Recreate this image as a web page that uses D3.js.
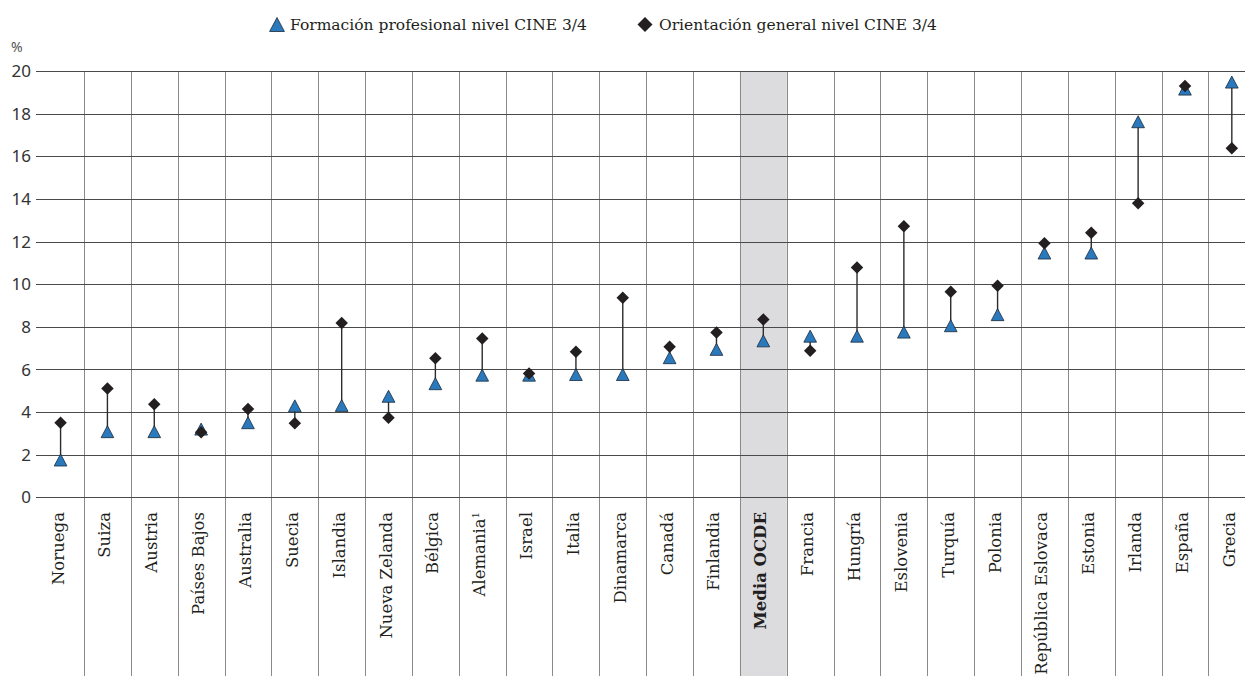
<!DOCTYPE html>
<html><head><meta charset="utf-8">
<script src="https://cdn.jsdelivr.net/npm/d3@7"></script>
<style>body{margin:0;background:#fff}svg{display:block}</style>
</head><body>
<script>
const categories = ["Noruega","Suiza","Austria","Países Bajos","Australia","Suecia","Islandia","Nueva Zelanda","Bélgica","Alemania","Israel","Italia","Dinamarca","Canadá","Finlandia","Media OCDE","Francia","Hungría","Eslovenia","Turquía","Polonia","República Eslovaca","Estonia","Irlanda","España","Grecia"];
const vocational = [1.75,3.08,3.08,3.2,3.5,4.29,4.31,4.74,5.33,5.73,5.73,5.76,5.76,6.55,6.94,7.34,7.56,7.56,7.75,8.05,8.57,11.46,11.46,17.62,19.15,19.48];
const general    = [3.5,5.1,4.36,3.05,4.14,3.47,8.18,3.73,6.52,7.45,5.81,6.83,9.36,7.06,7.73,8.34,6.87,10.78,12.72,9.64,9.92,11.92,12.41,13.79,19.3,16.37];
const yTicks = [0,2,4,6,8,10,12,14,16,18,20];
const seriesNames = ["Formación profesional nivel CINE 3/4","Orientación general nivel CINE 3/4"];
const highlight = "Media OCDE";

const W = 1245, H = 676;
const svg = d3.select("body").append("svg").attr("width", W).attr("height", H);
const x = d3.scaleBand().domain(categories).range([37.15, 1255.25]).padding(0);
const y = d3.scaleLinear().domain([0, 20]).range([497.3, 71]);
const bw = x.bandwidth();
const blue = "#2a79bd", dark = "#231f20";

// highlight band
svg.append("rect").attr("x", x(highlight)).attr("y", y(20)).attr("width", bw)
  .attr("height", H - y(20)).attr("fill", "#dcdcde");

// vertical separators
svg.append("g").selectAll("line").data(categories.slice(1)).join("line")
  .attr("x1", d => Math.round(x(d)) + 0.5).attr("x2", d => Math.round(x(d)) + 0.5)
  .attr("y1", y(20)).attr("y2", H).attr("stroke", "#8a8a8a").attr("stroke-width", 1);

// horizontal gridlines
svg.append("g").selectAll("line").data(yTicks).join("line")
  .attr("x1", 36).attr("x2", W)
  .attr("y1", d => Math.round(y(d)) + 0.5).attr("y2", d => Math.round(y(d)) + 0.5)
  .attr("stroke", "#4a4a4a").attr("stroke-width", 1);

// y tick labels
svg.append("g").selectAll("text").data(yTicks).join("text")
  .attr("x", 31).attr("y", d => y(d)).attr("dy", "0.36em").attr("text-anchor", "end")
  .attr("font-family", "'Noto Sans', sans-serif").attr("font-size", 17).attr("fill", "#333")
  .text(d => d);
svg.append("text").attr("x", 11).attr("y", 52).attr("font-family", "'Noto Sans', sans-serif")
  .attr("font-size", 14).attr("fill", "#555").text("%");

// connectors
const cx = d => x(d) + bw / 2;
svg.append("g").selectAll("line").data(categories).join("line")
  .attr("x1", cx).attr("x2", cx)
  .attr("y1", (d, i) => y(vocational[i])).attr("y2", (d, i) => y(general[i]))
  .attr("stroke", "#2b2b2b").attr("stroke-width", 1.4);

const triPath = (s) => `M0,${-s/2}L${s*0.53},${s/2}L${-s*0.53},${s/2}Z`;
const diaPath = (s) => `M0,${-s/2}L${s/2},0L0,${s/2}L${-s/2},0Z`;

svg.append("g").selectAll("path").data(categories).join("path")
  .attr("transform", (d, i) => `translate(${cx(d)},${y(vocational[i])})`)
  .attr("d", triPath(12)).attr("fill", blue).attr("stroke", "#1b2a3a").attr("stroke-width", 0.8);
svg.append("g").selectAll("path").data(categories).join("path")
  .attr("transform", (d, i) => `translate(${cx(d)},${y(general[i])})`)
  .attr("d", diaPath(12.5)).attr("fill", dark);

// x labels
const lab = svg.append("g").selectAll("text").data(categories).join("text")
  .attr("transform", d => `translate(${cx(d) + 3},512) rotate(-90)`)
  .attr("text-anchor", "end")
  .attr("font-family", "'DejaVu Serif', serif").attr("font-size", 16.5)
  .attr("font-weight", d => d === highlight ? "bold" : "normal")
  .attr("fill", dark);
lab.each(function(d) {
  const t = d3.select(this);
  if (d === "Alemania") {
    t.append("tspan").text("Alemania");
    t.append("tspan").attr("font-size", 10).attr("dy", "-0.6em").text("1");
  } else t.text(d);
});

// legend
const lg = svg.append("g").attr("font-family", "'DejaVu Serif', serif").attr("font-size", 15.5).attr("fill", dark);
lg.append("path").attr("transform", "translate(277,24.5)").attr("d", triPath(14))
  .attr("fill", blue).attr("stroke", "#1b2a3a").attr("stroke-width", 0.8);
lg.append("text").attr("x", 290).attr("y", 29.5).text(seriesNames[0]);
lg.append("path").attr("transform", "translate(645,24.5)").attr("d", diaPath(15)).attr("fill", dark);
lg.append("text").attr("x", 659).attr("y", 29.5).text(seriesNames[1]);
</script>
</body></html>
